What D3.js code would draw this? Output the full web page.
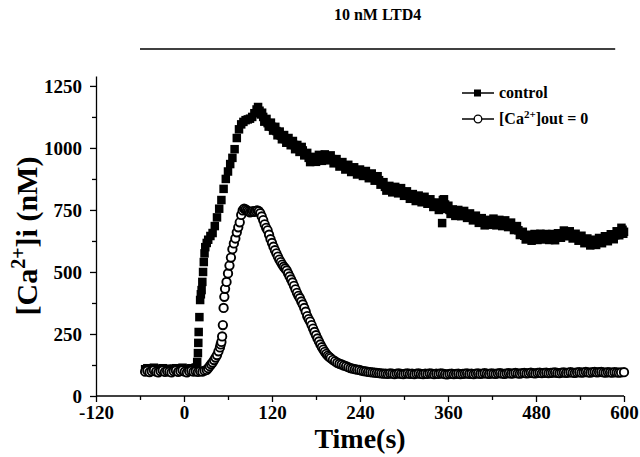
<!DOCTYPE html>
<html>
<head>
<meta charset="utf-8">
<script src="https://cdn.jsdelivr.net/npm/d3@7"></script>
<style>
  body { margin: 0; background: #fff; }
  svg { display: block; font-family: "Liberation Serif", "Times New Roman", serif; font-weight: bold; }
</style>
</head>
<body>
<div id="chart"></div>
<script>
// [time (s), [Ca2+]i (nM)]
var controlData = [
  [-53,108],[-50,112],[-47,106],[-44,110],[-41,114],[-38,108],[-35,104],[-32,110],[-29,112],[-26,106],
  [-23,110],[-20,108],[-17,104],[-14,110],[-11,112],[-8,106],[-5,110],[-2,114],[1,108],[4,104],
  [7,110],[10,112],[13,108],[16,115],[18,137],[19,173],[19.5,214],[20,258],[21,318],[22,387],
  [23,410],[24,427],[25,460],[26,500],[27,540],[28,575],[29,600],[31,617],[33,630],[36,645],
  [39,657],[42,685],[45,720],[48,755],[51,790],[54,835],[57,875],[60,905],[63,935],[66,960],
  [69,995],[72,1040],[75,1075],[78,1095],[81,1105],[84,1112],[87,1115],[90,1118],[93,1125],[96,1140],
  [99,1155],[101,1165],[103,1150],[105,1135],[108,1125],[111,1110],[114,1100],[117,1095],[120,1085],[123,1078],
  [126,1068],[129,1058],[132,1050],[135,1044],[138,1036],[141,1030],[144,1025],[147,1020],[150,1012],[153,1002],
  [156,998],[159,994],[162,990],[166,975],[170,960],[174,950],[178,955],[182,958],[186,961],[190,960],
  [194,963],[198,960],[202,955],[206,946],[210,940],[214,934],[218,928],[222,923],[226,918],[230,913],
  [234,908],[238,903],[242,900],[246,898],[250,893],[254,888],[258,883],[262,878],[266,870],[270,858],
  [274,843],[278,836],[282,834],[286,832],[290,830],[294,829],[298,823],[302,816],[306,810],[310,804],
  [314,800],[318,797],[322,795],[326,792],[330,790],[334,784],[338,778],[342,771],[346,765],[349,760],
  [352,697],[353,790],[356,772],[359,760],[362,750],[365,742],[368,737],[372,740],[376,737],[380,737],
  [384,732],[388,727],[392,722],[396,718],[400,713],[404,708],[408,702],[412,697],[416,700],[420,705],
  [424,702],[428,699],[432,698],[436,697],[440,696],[444,690],[448,684],[452,678],[456,668],[460,655],
  [464,646],[468,640],[472,637],[476,640],[480,642],[484,641],[488,644],[492,642],[496,640],[500,642],
  [504,640],[508,641],[512,647],[516,653],[520,657],[524,655],[528,650],[532,645],[536,640],[540,637],
  [544,631],[548,626],[552,621],[556,618],[560,619],[564,623],[568,627],[572,630],[576,634],[580,638],
  [584,641],[588,648],[592,656],[595,663],[598,670],[600,662],
  // in-between samples: the band is noisy, roughly +/- 12 nM
  [106.5,1142],[109.5,1106],[112.5,1117],[115.5,1086],[118.5,1102],[121.5,1070],[124.5,1085],[127.5,1051],
  [130.5,1066],[133.5,1035],[136.5,1052],[139.5,1021],[142.5,1040],[145.5,1011],[148.5,1028],[151.5,995],
  [154.5,1012],[157.5,984],[160.5,1004],[164,970],[168,980],[172,943],[176,964],[180,944],
  [184,972],[188,948],[192,974],[196,950],[200,970],[204,938],[208,955],[212,925],
  [216,943],[220,913],[224,932],[228,903],[232,922],[236,893],[240,913],[244,887],
  [248,907],[252,878],[256,897],[260,868],[264,886],[268,852],[272,862],[276,828],
  [280,847],[284,821],[288,843],[292,817],[296,838],[300,807],[304,825],[308,795],
  [312,814],[316,786],[320,808],[324,781],[328,803],[332,775],[336,793],[340,762],
  [344,780],[347.5,750],[354.5,793],[357.5,754],[360.5,767],[363.5,734],[366.5,752],[370,726],
  [374,750],[378,725],[382,746],[386,718],[390,736],[394,708],[398,727],[402,698],
  [406,717],[410,688],[414,710],[418,690],[422,715],[426,688],[430,710],[434,685],
  [438,708],[442,681],[446,699],[450,669],[454,685],[458,649],[462,662],[466,631],
  [470,650],[474,626],[478,653],[482,629],[486,654],[490,631],[494,653],[498,629],
  [502,653],[506,628],[510,656],[514,638],[518,667],[522,644],[526,664],[530,635],
  [534,654],[538,626],[542,646],[546,616],[550,635],[554,607],[558,630],[562,609],
  [566,637],[570,616],[574,644],[578,624],[582,652],[586,632],[590,664],[593.5,648],
  [596.5,678],[599,654]
];

var zeroCaData = [
  [-53,98],[-50,102],[-47,96],[-44,100],[-41,104],[-38,98],[-35,95],[-32,100],[-29,103],[-26,97],
  [-23,100],[-20,98],[-17,95],[-14,100],[-11,103],[-8,97],[-5,100],[-2,104],[1,98],[4,95],
  [7,100],[10,102],[13,98],[16,100],[19,97],[22,100],[25,98],[28,102],[31,105],[33,112],
  [35,120],[37,128],[39,135],[41,145],[43,155],[45,165],[47,180],[49,196],[50,208],[51,218],
  [52,240],[53,286],[54,355],[55,400],[56,432],[58,460],[60,494],[62,526],[64,558],[66,592],
  [68,615],[70,635],[72,660],[74,680],[76,700],[78,730],[80,748],[82,755],[84,752],[86,748],
  [88,744],[90,740],[92,742],[94,745],[96,742],[98,745],[100,748],[102,745],[104,737],[106,724],
  [108,709],[110,692],[112,678],[114,668],[116,650],[118,632],[120,617],[122,602],[124,588],[126,575],
  [128,562],[130,550],[132,540],[134,530],[136,521],[138,514],[140,506],[142,494],[144,482],[146,470],
  [148,458],[150,444],[152,430],[154,416],[156,404],[158,394],[160,381],[162,369],[164,355],[166,340],
  [168,322],[170,310],[172,300],[174,286],[176,272],[178,258],[180,245],[182,232],[184,220],[186,208],
  [188,197],[190,187],[192,178],[194,170],[196,163],[198,158],[200,153],[203,146],[206,140],[209,134],
  [212,130],[215,127],[218,123],[221,120],[224,116],[227,112],[230,110],[233,108],[236,106],[239,105],
  [242,102],[245,100],[248,99],[251,97],[254,96],[257,95],[260,94],[263,93],[266,92],[269,91],
  [272,90],[275,90],[278,89],[281,91],[284,90],[287,88],[290,90],[293,91],[296,89],[299,88],
  [302,90],[305,91],[308,89],[311,90],[314,88],[317,90],[320,91],[323,89],[326,88],[329,90],
  [332,89],[335,91],[338,90],[341,88],[344,90],[347,89],[350,91],[353,90],[356,88],[359,87],
  [362,89],[365,90],[368,88],[371,89],[374,90],[377,88],[380,89],[383,90],[386,91],[389,89],
  [392,90],[395,88],[398,90],[401,91],[404,89],[407,90],[410,92],[413,90],[416,89],[419,91],
  [422,90],[425,89],[428,91],[431,92],[434,90],[437,89],[440,91],[443,92],[446,90],[449,91],
  [452,93],[455,91],[458,90],[461,92],[464,93],[467,91],[470,92],[473,94],[476,92],[479,91],
  [482,93],[485,94],[488,92],[491,93],[494,94],[497,92],[500,93],[503,94],[506,95],[509,93],
  [512,92],[515,94],[518,95],[521,93],[524,94],[527,96],[530,94],[533,93],[536,95],[539,96],
  [542,94],[545,95],[548,97],[551,95],[554,94],[557,96],[560,97],[563,95],[566,96],[569,97],
  [572,95],[575,94],[578,96],[581,95],[584,94],[587,96],[590,95],[593,94],[596,95],[600,96]
];

var xTicks = [-120, 0, 120, 240, 360, 480, 600];
var xMinorTicks = [-60, 60, 180, 300, 420, 540];
var yTicks = [0, 250, 500, 750, 1000, 1250];
var yMinorTicks = [125, 375, 625, 875, 1125];
var ltd4Period = [-60, 588];   // bar at the top: LTD4 present
var legendLabels = ['control', '[Ca2+]out = 0'];

var width = 640, height = 457;
var sq = 8.5, rr = 4.2;

var svg = d3.select('#chart').append('svg')
  .attr('width', width)
  .attr('height', height);

svg.append('rect').attr('width', width).attr('height', height).attr('fill', '#fff');

var x = d3.scaleLinear().domain([-120, 600]).range([96, 624]);
var y = d3.scaleLinear().domain([0, 1290]).range([396, 76]);

var plain = d => String(d);   // no comma, ascii minus

// axes
var gx = svg.append('g').attr('transform', `translate(0,${y(0)})`);
gx.call(d3.axisBottom(x).tickValues(xTicks).tickSize(6).tickPadding(4).tickFormat(plain));
gx.append('g').call(d3.axisBottom(x).tickValues(xMinorTicks).tickSize(4).tickFormat(''))
  .select('.domain').remove();

var gy = svg.append('g').attr('transform', `translate(${x(-120)},0)`);
gy.call(d3.axisLeft(y).tickValues(yTicks).tickSize(6).tickPadding(8).tickSizeOuter(0).tickFormat(plain));
gy.append('g').call(d3.axisLeft(y).tickValues(yMinorTicks).tickSize(4).tickFormat(''))
  .select('.domain').remove();

svg.selectAll('.domain, .tick line').attr('stroke', '#000').attr('stroke-width', 1.3);
svg.selectAll('.tick text')
  .attr('fill', '#000')
  .style('font-family', '"Liberation Serif", serif')
  .style('font-weight', 'bold')
  .style('font-size', '19px');
gx.select('.domain').attr('d', `M${x(-120)},0H${x(600)}`);

// data
svg.append('g').selectAll('rect')
  .data(controlData)
  .enter().append('rect')
  .attr('x', d => x(d[0]) - sq / 2)
  .attr('y', d => y(d[1]) - sq / 2)
  .attr('width', sq)
  .attr('height', sq)
  .attr('fill', '#000');

svg.append('g').selectAll('circle')
  .data(zeroCaData)
  .enter().append('circle')
  .attr('cx', d => x(d[0]))
  .attr('cy', d => y(d[1]))
  .attr('r', rr)
  .attr('fill', '#fff')
  .attr('stroke', '#000')
  .attr('stroke-width', 1.9);

// LTD4 bar + title
svg.append('line')
  .attr('x1', x(ltd4Period[0])).attr('x2', x(ltd4Period[1]))
  .attr('y1', 49).attr('y2', 49)
  .attr('stroke', '#000').attr('stroke-width', 1.5);

svg.append('text')
  .attr('x', (x(ltd4Period[0]) + x(ltd4Period[1])) / 2)
  .attr('y', 20)
  .attr('text-anchor', 'middle')
  .style('font-size', '16px')
  .text('10 nM LTD4');

// legend
var leg = svg.append('g').attr('transform', 'translate(462,93)');
leg.append('line').attr('x1', 0).attr('x2', 32).attr('stroke', '#000').attr('stroke-width', 1.5);
leg.append('rect').attr('x', 12).attr('y', -3.5).attr('width', 7).attr('height', 7).attr('fill', '#000');
leg.append('text').attr('x', 37).attr('y', 5).style('font-size', '16px').text(legendLabels[0]);

var leg2 = svg.append('g').attr('transform', 'translate(462,119)');
leg2.append('line').attr('x1', 0).attr('x2', 32).attr('stroke', '#000').attr('stroke-width', 1.5);
leg2.append('circle').attr('cx', 16).attr('r', 3.8).attr('fill', '#fff').attr('stroke', '#000').attr('stroke-width', 1.3);
var t2 = leg2.append('text').attr('x', 37).attr('y', 5).style('font-size', '16px');
t2.append('tspan').text('[Ca');
t2.append('tspan').attr('dy', -6).style('font-size', '11px').text('2+');
t2.append('tspan').attr('dy', 6).text(']out = 0');

// axis titles
svg.append('text')
  .attr('x', x(240))
  .attr('y', 448)
  .attr('text-anchor', 'middle')
  .style('font-size', '28px')
  .text('Time(s)');

var yl = svg.append('text')
  .attr('transform', 'translate(37,236) rotate(-90)')
  .attr('text-anchor', 'middle')
  .style('font-size', '30px');
yl.append('tspan').text('[Ca');
yl.append('tspan').attr('dy', -12).style('font-size', '20px').text('2+');
yl.append('tspan').attr('dy', 12).text(']i (nM)');
</script>
</body>
</html>
